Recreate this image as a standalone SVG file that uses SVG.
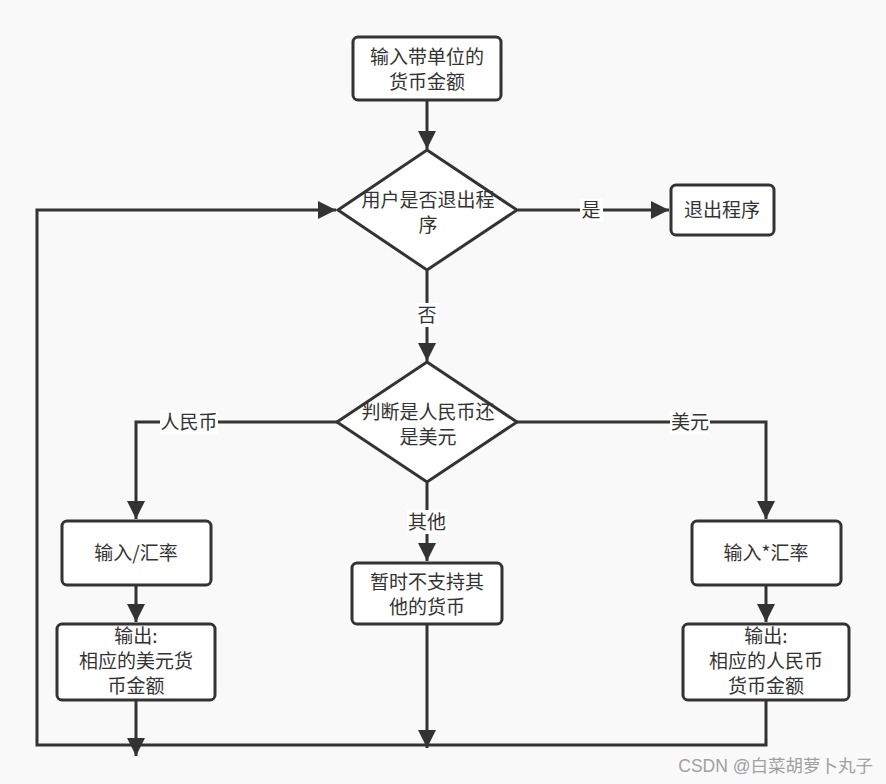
<svg xmlns="http://www.w3.org/2000/svg" width="886" height="784" viewBox="0 0 886 784">
<style>
.bg{fill:#f9f9f9}
.n{fill:#fff;stroke:#333;stroke-width:3}
.c{fill:none;stroke:#333;stroke-width:3}
.t{font-family:"Noto Sans CJK SC","Liberation Sans",sans-serif;font-size:19px;fill:#333;text-anchor:middle}
.lb{fill:#fff}
.wm{font-family:"Liberation Sans","Noto Sans CJK SC",sans-serif;font-size:17.5px;fill:#a0a0a0;text-anchor:end}
</style>
<defs>
<marker id="ah" viewBox="0 0 10 10" refX="10" refY="5" markerWidth="6" markerHeight="6" markerUnits="strokeWidth" orient="auto">
<path d="M0,0 L10,5 L0,10 z" fill="#333"/>
</marker>
</defs>
<rect class="bg" x="0" y="0" width="886" height="784"/>
<g id="connectors">
<path class="c" d="M427,101 V149" marker-end="url(#ah)"/>
<path class="c" d="M518,210 H669" marker-end="url(#ah)"/>
<path class="c" d="M427,271 V361" marker-end="url(#ah)"/>
<path class="c" d="M337,422 H136 V519" marker-end="url(#ah)"/>
<path class="c" d="M517,422 H766 V519" marker-end="url(#ah)"/>
<path class="c" d="M427,483 V561" marker-end="url(#ah)"/>
<path class="c" d="M136,586 V622" marker-end="url(#ah)"/>
<path class="c" d="M766,586 V622" marker-end="url(#ah)"/>
<path class="c" d="M136,701 V756" marker-end="url(#ah)"/>
<path class="c" d="M427,625 V748" marker-end="url(#ah)"/>
<path class="c" d="M766,701 V745 H37 V210 H336" marker-end="url(#ah)"/>
<rect class="lb" x="580" y="199" width="23" height="23"/>
<text class="t" x="591" y="217">是</text>
<rect class="lb" x="416" y="303" width="23" height="24"/>
<text class="t" x="427" y="322">否</text>
<rect class="lb" x="160" y="410" width="58" height="24"/>
<text class="t" x="189" y="429">人民币</text>
<rect class="lb" x="670" y="410" width="40" height="24"/>
<text class="t" x="690" y="429">美元</text>
<rect class="lb" x="407" y="510" width="41" height="24"/>
<text class="t" x="427" y="529">其他</text>
</g>
<g id="input">
<rect class="n" x="353" y="37" width="148" height="63" rx="5"/>
<text class="t" x="427" y="64">输入带单位的</text>
<text class="t" x="427" y="89">货币金额</text>
</g>
<g id="decision-exit">
<path class="n" d="M427,150 L517,210 L427,270 L338,210 z"/>
<text class="t" x="428" y="207">用户是否退出程</text>
<text class="t" x="428" y="232">序</text>
</g>
<g id="exit">
<rect class="n" x="671" y="185" width="103" height="50" rx="5"/>
<text class="t" x="722" y="217">退出程序</text>
</g>
<g id="decision-currency">
<path class="n" d="M427,362 L517,422 L427,482 L337,422 z"/>
<text class="t" x="428" y="419">判断是人民币还</text>
<text class="t" x="428" y="444">是美元</text>
</g>
<g id="rmb-input">
<rect class="n" x="62" y="521" width="149" height="64" rx="5"/>
<text class="t" x="136" y="560">输入/汇率</text>
</g>
<g id="rmb-output">
<rect class="n" x="57" y="624" width="158" height="76" rx="5"/>
<text class="t" x="136" y="643">输出:</text>
<text class="t" x="136" y="668">相应的美元货</text>
<text class="t" x="136" y="693">币金额</text>
</g>
<g id="other">
<rect class="n" x="352" y="563" width="150" height="61" rx="5"/>
<text class="t" x="427" y="589">暂时不支持其</text>
<text class="t" x="427" y="614">他的货币</text>
</g>
<g id="usd-input">
<rect class="n" x="692" y="521" width="149" height="64" rx="5"/>
<text class="t" x="766" y="560">输入*汇率</text>
</g>
<g id="usd-output">
<rect class="n" x="683" y="624" width="166" height="76" rx="5"/>
<text class="t" x="766" y="643">输出:</text>
<text class="t" x="766" y="668">相应的人民币</text>
<text class="t" x="766" y="693">货币金额</text>
</g>
<text class="wm" x="873" y="772">CSDN @白菜胡萝卜丸子</text>
</svg>
